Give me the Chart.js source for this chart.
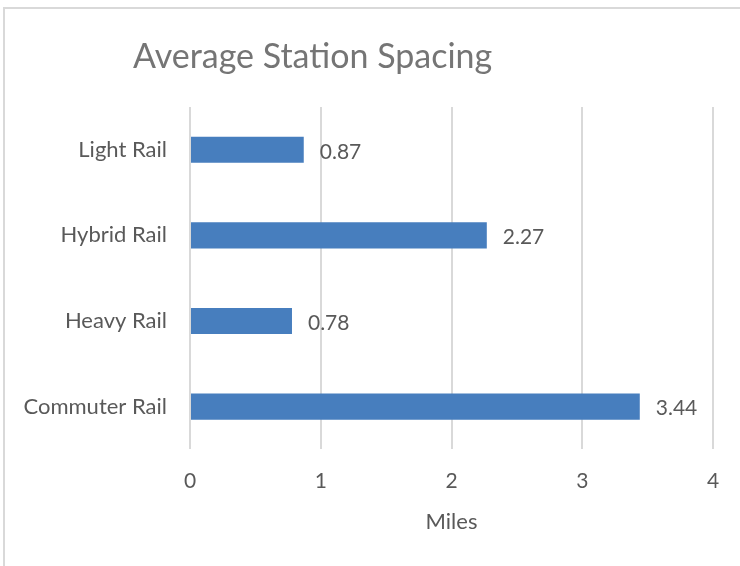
<!DOCTYPE html>
<html>
<head>
<meta charset="utf-8">
<script src="https://cdn.jsdelivr.net/npm/chart.js@4"></script>
<style>
  html, body { margin: 0; padding: 0; background: #fff; overflow: hidden; }
  #wrap { position: relative; width: 740px; height: 566px; }
  #frame { position: absolute; left: 3px; top: 7px; width: 800px; height: 700px;
           border: 2px solid #d9d9d9; pointer-events: none; }
</style>
</head>
<body>
<div id="wrap">
  <canvas id="spacing" width="740" height="566"></canvas>
  <div id="frame"></div>
</div>
<script>

const chartTitle = "Average Station Spacing";
const categories = ["Light Rail", "Hybrid Rail", "Heavy Rail", "Commuter Rail"];
const spacing = [0.87, 2.27, 0.78, 3.44];
const xTicks = [0, 1, 2, 3, 4];

const textGray = "#595959";

// value labels to the right of each bar
const barLabels = {
  id: "barLabels",
  afterDatasetsDraw(chart){
    const ctx = chart.ctx;
    const meta = chart.getDatasetMeta(0);
    ctx.save();
    ctx.font = "21px Lato";
    ctx.fillStyle = textGray;
    ctx.textAlign = "left";
    ctx.textBaseline = "middle";
    meta.data.forEach((bar, i) => {
      ctx.fillText(spacing[i].toFixed(2), bar.x + 16, bar.y + 2);
    });
    ctx.restore();
  }
};

// title sits left of the plot, like the Excel original
const leftTitle = {
  id: "leftTitle",
  afterDraw(chart){
    const ctx = chart.ctx;
    ctx.save();
    ctx.font = "34px Lato";
    ctx.fillStyle = "#757575";
    ctx.textAlign = "left";
    ctx.textBaseline = "middle";
    ctx.fillText(chartTitle, chart.chartArea.left - 57, 57);
    ctx.restore();
  }
};

new Chart("spacing", {
  type: "bar",
  data: {
    labels: categories,
    datasets: [{
      data: spacing,
      backgroundColor: "#477ebe",
      barPercentage: 0.305,
      categoryPercentage: 1
    }]
  },
  plugins: [barLabels, leftTitle],
  options: {
    indexAxis: "y",
    responsive: false,
    animation: false,
    layout: { padding: { left: 0, right: 27, top: 107, bottom: 31 } },
    plugins: {
      legend: { display: false },
      tooltip: { enabled: false },
      title: { display: false }
    },
    scales: {
      x: {
        min: 0,
        max: 4,
        afterBuildTicks: s => { s.ticks = xTicks.map(v => ({ value: v })); },
        grid: { color: "#d9d9d9", lineWidth: 2, drawTicks: false },
        border: { display: false },
        ticks: { color: textGray, padding: 19, font: { family: "Lato", size: 21 } },
        title: {
          display: true,
          text: "Miles",
          color: textGray,
          padding: { top: -4, bottom: 0 },
          font: { family: "Lato", size: 22 }
        }
      },
      y: {
        grid: { display: false, drawTicks: false },
        border: { display: false },
        afterFit: s => { s.width = 190; },
        ticks: { color: textGray, padding: 23, font: { family: "Lato", size: 22 } }
      }
    }
  }
});
</script>
</body>
</html>
